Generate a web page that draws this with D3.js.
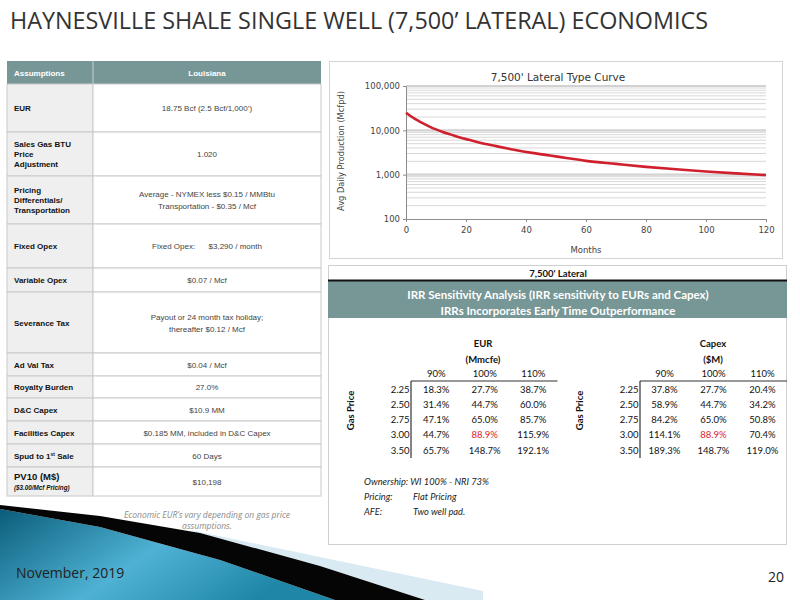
<!DOCTYPE html>
<html>
<head>
<meta charset="utf-8">
<script src="https://cdn.jsdelivr.net/npm/d3@7"></script>
<style>
  body { margin: 0; background: #fff; }
  svg { display: block; }
</style>
</head>
<body>
<div id="slide"></div>
<script>
// ---- data ----
const assumptionLabels = [
  ['EUR'],
  ['Sales Gas BTU', 'Price', 'Adjustment'],
  ['Pricing', 'Differentials/', 'Transportation'],
  ['Fixed Opex'],
  ['Variable Opex'],
  ['Severance Tax'],
  ['Ad Val Tax'],
  ['Royalty Burden'],
  ['D&C Capex'],
  ['Facilities Capex'],
  ['Spud to 1st Sale'],
  ['PV10 (M$)']
];
const assumptionValues = [
  ['18.75 Bcf (2.5 Bcf/1,000\u2019)'],
  ['1.020'],
  ['Average - NYMEX less $0.15 / MMBtu', 'Transportation - $0.35 / Mcf'],
  ['Fixed Opex:      $3,290 / month'],
  ['$0.07 / Mcf'],
  ['Payout or 24 month tax holiday;', 'thereafter $0.12 / Mcf'],
  ['$0.04 / Mcf'],
  ['27.0%'],
  ['$10.9 MM'],
  ['$0.185 MM, included in D&C Capex'],
  ['60 Days'],
  ['$10,198']
];

// type curve, avg daily production (Mcfpd) by month
const curveMonths = [0, 2, 4, 6, 8, 10, 12, 15, 18, 21, 24, 30, 36, 42, 48, 54, 60, 70, 80, 90, 100, 110, 120];
const curveRate = [25000, 20000, 16500, 14000, 12000, 10500, 9300, 8000, 6900, 6100, 5400, 4400, 3650, 3100, 2700, 2350, 2050, 1750, 1500, 1320, 1180, 1070, 980];
const yTicks = [100, 1000, 10000, 100000];
const xTicks = [0, 20, 40, 60, 80, 100, 120];

// IRR sensitivity
const sensPcts = ['90%', '100%', '110%'];
const gasPrices = ['2.25', '2.50', '2.75', '3.00', '3.50'];
const eurIrr = [
  ['18.3%', '27.7%', '38.7%'],
  ['31.4%', '44.7%', '60.0%'],
  ['47.1%', '65.0%', '85.7%'],
  ['44.7%', '88.9%', '115.9%'],
  ['65.7%', '148.7%', '192.1%']
];
const capexIrr = [
  ['37.8%', '27.7%', '20.4%'],
  ['58.9%', '44.7%', '34.2%'],
  ['84.2%', '65.0%', '50.8%'],
  ['114.1%', '88.9%', '70.4%'],
  ['189.3%', '148.7%', '119.0%']
];
const baseCase = { row: '3.00', col: '100%' };
const notes = [
  ['Ownership:', 'WI 100% - NRI 73%'],
  ['Pricing:', 'Flat Pricing'],
  ['AFE:', 'Two well pad.']
];

// ---- drawing ----
const svg = d3.select('#slide').append('svg')
  .attr('width', 800).attr('height', 600);

const defs = svg.append('defs');
const grad = defs.append('linearGradient').attr('id', 'swoosh')
  .attr('x1', '0%').attr('y1', '0%').attr('x2', '100%').attr('y2', '40%');
grad.append('stop').attr('offset', '0%').attr('stop-color', '#0a5d7a');
grad.append('stop').attr('offset', '55%').attr('stop-color', '#4fb2d4');
grad.append('stop').attr('offset', '100%').attr('stop-color', '#1f86a8');

// bottom-left swoosh decoration
const swooshGroup = svg.append('g');
swooshGroup.append('polygon')
  .attr('points', '190,530 483,591 483,600 425,600 320,566 200,534')
  .attr('fill', '#d9eaf2');
swooshGroup.append('polygon')
  .attr('points', '0,509 100,527 220,560 335,600 0,600')
  .attr('fill', 'url(#swoosh)');
swooshGroup.append('polygon')
  .attr('points', '0,505 100,516 200,533 320,566 425,600 335,600 220,560 100,527 0,509')
  .attr('fill', '#050505');

// title
svg.append('text')
  .attr('x', 10).attr('y', 29)
  .attr('textLength', 698).attr('lengthAdjust', 'spacingAndGlyphs')
  .style('font-family', '"Liberation Sans Narrow", "Open Sans", sans-serif')
  .style('font-size', '23px')
  .attr('fill', '#333')
  .text('HAYNESVILLE SHALE SINGLE WELL (7,500\u2019 LATERAL) ECONOMICS');

svg.append('text')
  .attr('x', 16).attr('y', 578)
  .style('font-family', '"Liberation Sans Narrow", "Open Sans", sans-serif')
  .style('font-size', '14px').attr('fill', '#222')
  .text('November, 2019');
svg.append('text')
  .attr('x', 784).attr('y', 582).attr('text-anchor', 'end')
  .style('font-family', '"Liberation Sans Narrow", "Open Sans", sans-serif')
  .style('font-size', '14px').attr('fill', '#222')
  .text('20');

// ---- assumptions table ----
const tbl = svg.append('g').style('font-family', '"Liberation Sans", Arial, sans-serif');
const tX0 = 7, tX1 = 93, tX2 = 321, tTop = 61, headH = 23;
const rowHeights = [48, 44, 48, 44, 24, 61, 23, 22, 23, 23, 23, 29];
const rowTops = rowHeights.reduce((acc, h, i) => {
  acc.push(i === 0 ? tTop + headH : acc[i - 1] + rowHeights[i - 1]);
  return acc;
}, []);
const headFill = '#779796';
const lineCol = '#c9c9c9';

tbl.append('rect').attr('x', tX0).attr('y', tTop).attr('width', tX2 - tX0).attr('height', headH)
  .attr('fill', headFill);
tbl.append('line').attr('x1', tX1).attr('x2', tX1).attr('y1', tTop).attr('y2', tTop + headH)
  .attr('stroke', '#c8d4d4');
tbl.append('text').attr('x', 14).attr('y', tTop + 15)
  .style('font-size', '8px').style('font-weight', 'bold').attr('fill', '#fff')
  .text('Assumptions');
tbl.append('text').attr('x', (tX1 + tX2) / 2).attr('y', tTop + 15).attr('text-anchor', 'middle')
  .style('font-size', '8px').style('font-weight', 'bold').attr('fill', '#fff')
  .text('Louisiana');

const rows = tbl.selectAll('g.row').data(assumptionLabels).join('g')
  .attr('class', 'row')
  .attr('transform', (d, i) => `translate(0,${rowTops[i]})`);

rows.append('rect').attr('x', tX0).attr('width', tX1 - tX0)
  .attr('height', (d, i) => rowHeights[i]).attr('fill', '#efefef').attr('stroke', lineCol);
rows.append('rect').attr('x', tX1).attr('width', tX2 - tX1)
  .attr('height', (d, i) => rowHeights[i]).attr('fill', '#fff').attr('stroke', lineCol);

const lineGap = 10;
rows.each(function (labelLines, i) {
  const g = d3.select(this);
  const h = rowHeights[i];
  const extra = i === assumptionLabels.length - 1 ? 1 : 0;
  const lt = g.append('text').attr('x', 14)
    .style('font-size', i === assumptionLabels.length - 1 ? '9.5px' : '8px')
    .style('font-weight', 'bold').attr('fill', '#111');
  const n = labelLines.length + extra;
  labelLines.forEach((line, k) => {
    const y = h / 2 - (n - 1) * lineGap / 2 + k * lineGap + 3;
    if (line.includes('1st')) {
      const t = lt.append('tspan').attr('x', 14).attr('y', y);
      t.append('tspan').text('Spud to 1');
      t.append('tspan').attr('dy', -3).style('font-size', '5px').text('st');
      t.append('tspan').attr('dy', 3).text(' Sale');
    } else {
      lt.append('tspan').attr('x', 14).attr('y', y).text(line);
    }
  });
  if (extra) {
    g.append('text').attr('x', 14).attr('y', h / 2 + lineGap / 2 + 3)
      .style('font-size', '6.3px').style('font-weight', 'bold').style('font-style', 'italic')
      .attr('fill', '#111').text('($3.00/Mcf Pricing)');
  }

  const vals = assumptionValues[i];
  const vt = g.append('text').attr('text-anchor', 'middle')
    .style('font-size', '8px').attr('fill', '#444');
  vals.forEach((v, k) => {
    vt.append('tspan').attr('x', (tX1 + tX2) / 2)
      .attr('y', h / 2 - (vals.length - 1) * 12 / 2 + k * 12 + 3)
      .style('white-space', 'pre').attr('xml:space', 'preserve')
      .text(v);
  });
});

svg.append('g')
  .style('font-family', '"Open Sans", sans-serif').style('font-style', 'italic')
  .style('font-size', '8.5px').attr('fill', '#8a8a8a').attr('text-anchor', 'middle')
  .selectAll('text').data(['Economic EUR\u2019s vary depending on gas price', 'assumptions.'])
  .join('text')
  .attr('x', 207).attr('y', (d, i) => 518 + i * 11)
  .text(d => d);

// ---- type curve chart ----
const chart = svg.append('g').style('font-family', '"DejaVu Sans", Verdana, sans-serif');
chart.append('rect').attr('x', 329.5).attr('y', 61.5).attr('width', 453).attr('height', 197)
  .attr('fill', '#fff').attr('stroke', '#d3d3d3');

const x = d3.scaleLinear().domain([0, 120]).range([406, 766]);
const y = d3.scaleLog().domain([100, 100000]).range([219, 86]);

// log gridlines
const gridVals = [];
[100, 1000, 10000].forEach(dec => {
  for (let k = 1; k <= 9; k++) gridVals.push(dec * k);
});
gridVals.push(100000);
chart.append('g').selectAll('line').data(gridVals.filter(v => v > 100)).join('line')
  .attr('x1', x(0)).attr('x2', x(120))
  .attr('y1', d => y(d)).attr('y2', d => y(d))
  .attr('stroke', d => yTicks.includes(d) ? '#d2d2d2' : '#d8d8d8')
  .attr('stroke-width', d => yTicks.includes(d) ? 2.2 : 1);

const yAxis = chart.append('g').attr('transform', `translate(${x(0)},0)`)
  .call(d3.axisLeft(y).tickValues(yTicks).tickFormat(d3.format(',')).tickSize(3).tickPadding(3));
const xAxis = chart.append('g').attr('transform', `translate(0,${y(100)})`)
  .call(d3.axisBottom(x).tickValues(xTicks).tickSize(3).tickPadding(5));
[yAxis, xAxis].forEach(a => {
  a.select('.domain').attr('stroke', '#8c8c8c');
  a.selectAll('.tick line').attr('stroke', '#8c8c8c');
  a.selectAll('.tick text').style('font-size', '8.5px').style('font-family', '"DejaVu Sans", Verdana, sans-serif')
    .attr('fill', '#444');
});

const curve = d3.line()
  .x((d, i) => x(curveMonths[i]))
  .y(d => y(d))
  .curve(d3.curveMonotoneX);
chart.append('path').datum(curveRate)
  .attr('d', curve).attr('fill', 'none')
  .attr('stroke', '#d0202e').attr('stroke-width', 2.6);

chart.append('text').attr('x', 558).attr('y', 81).attr('text-anchor', 'middle')
  .style('font-size', '10.5px').attr('fill', '#333').text('7,500\' Lateral Type Curve');
chart.append('text').attr('x', 586).attr('y', 253).attr('text-anchor', 'middle')
  .style('font-size', '8.5px').attr('fill', '#444').text('Months');
chart.append('text').attr('transform', 'translate(344,151) rotate(-90)').attr('text-anchor', 'middle')
  .style('font-size', '8.3px').attr('fill', '#444').text('Avg Daily Production (Mcfpd)');

// ---- IRR sensitivity panel ----
const irr = svg.append('g').style('font-family', 'Lato, "Open Sans", sans-serif');
irr.append('rect').attr('x', 328.5).attr('y', 265.5).attr('width', 458).attr('height', 279)
  .attr('fill', '#fff').attr('stroke', '#cfcfcf');
irr.append('text').attr('x', 558).attr('y', 277).attr('text-anchor', 'middle')
  .style('font-size', '9.5px').style('font-weight', 'bold').attr('fill', '#111')
  .text('7,500\' Lateral');
irr.append('rect').attr('x', 328).attr('y', 281).attr('width', 459).attr('height', 37).attr('fill', headFill);
irr.append('line').attr('x1', 328).attr('x2', 787).attr('y1', 280.5).attr('y2', 280.5)
  .attr('stroke', '#111').attr('stroke-width', 2);
irr.selectAll('text.band').data([
  'IRR Sensitivity Analysis (IRR sensitivity to EURs and Capex)',
  'IRRs Incorporates Early Time Outperformance'
]).join('text').attr('class', 'band')
  .attr('x', 558).attr('y', (d, i) => 299 + i * 16).attr('text-anchor', 'middle')
  .style('font-size', '11.5px').style('font-weight', 'bold').attr('fill', '#fff')
  .text(d => d);

function sensTable(title, sub, matrix, colRange, axisX, titleX) {
  const g = irr.append('g');
  const col = d3.scaleBand().domain(sensPcts).range(colRange);
  const row = d3.scaleBand().domain(gasPrices).range([381.5, 457.75]);
  g.append('text').attr('x', titleX).attr('y', 347).attr('text-anchor', 'middle')
    .style('font-size', '9.5px').style('font-weight', 'bold').attr('fill', '#111').text(title);
  g.append('text').attr('x', titleX).attr('y', 363).attr('text-anchor', 'middle')
    .style('font-size', '9.5px').style('font-weight', 'bold').attr('fill', '#111').text(sub);
  g.selectAll('text.colh').data(sensPcts).join('text').attr('class', 'colh')
    .attr('x', d => col(d) + col.bandwidth() / 2).attr('y', 377).attr('text-anchor', 'middle')
    .style('font-size', '9.5px').attr('fill', '#111').text(d => d);
  g.append('line').attr('x1', axisX).attr('x2', colRange[1]).attr('y1', 381).attr('y2', 381)
    .attr('stroke', '#333').attr('stroke-width', 1.2);
  g.append('line').attr('x1', axisX).attr('x2', axisX).attr('y1', 381).attr('y2', 458)
    .attr('stroke', '#333').attr('stroke-width', 1.2);
  g.selectAll('text.rowh').data(gasPrices).join('text').attr('class', 'rowh')
    .attr('x', axisX - 1.5).attr('y', d => row(d) + row.bandwidth() / 2 + 3.5).attr('text-anchor', 'end')
    .style('font-size', '9.5px').attr('fill', '#111').text(d => d);
  const cells = matrix.flatMap((r, i) => r.map((v, j) => ({ r: gasPrices[i], c: sensPcts[j], v })));
  g.selectAll('text.cell').data(cells).join('text').attr('class', 'cell')
    .attr('x', d => col(d.c) + col.bandwidth() / 2)
    .attr('y', d => row(d.r) + row.bandwidth() / 2 + 3.5)
    .attr('text-anchor', 'middle').style('font-size', '9.5px')
    .attr('fill', d => d.r === baseCase.row && d.c === baseCase.col ? '#e0202a' : '#111')
    .text(d => d.v);
  g.append('text').attr('transform', `translate(${axisX - 57},${row.range()[0] + 29}) rotate(-90)`)
    .attr('text-anchor', 'middle').style('font-size', '9.5px').style('font-weight', 'bold')
    .attr('fill', '#111').text('Gas Price');
}
sensTable('EUR', '(Mmcfe)', eurIrr, [412, 557.5], 411, 483);
sensTable('Capex', '($M)', capexIrr, [640, 787], 640, 713);

const noteG = irr.append('g').style('font-style', 'italic').style('font-size', '9.3px').attr('fill', '#222');
noteG.selectAll('text.nk').data(notes).join('text').attr('class', 'nk')
  .attr('x', 364).attr('y', (d, i) => 485 + i * 15)
  .text((d, i) => i === 0 ? d[0] + ' ' + d[1] : d[0]);
noteG.selectAll('text.nv').data(notes.slice(1)).join('text').attr('class', 'nv')
  .attr('x', 413).attr('y', (d, i) => 500 + i * 15)
  .text(d => d[1]);
</script>
</body>
</html>
